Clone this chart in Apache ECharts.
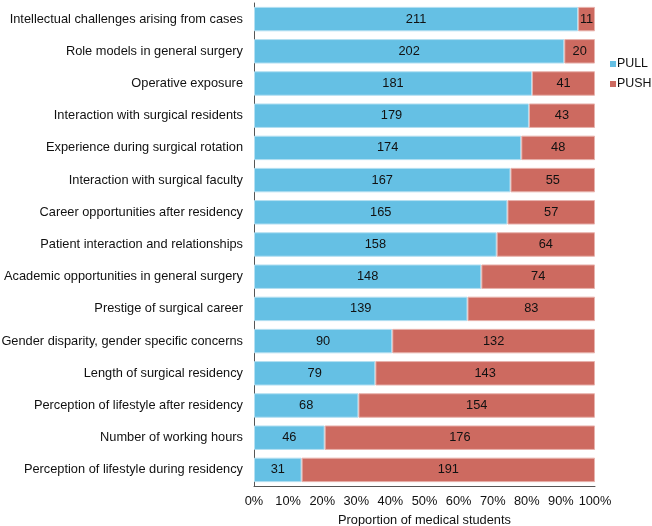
<!DOCTYPE html>
<html>
<head>
<meta charset="utf-8">
<script src="https://cdn.jsdelivr.net/npm/echarts@6/dist/echarts.min.js"></script>
<style>
  html, body { margin: 0; padding: 0; background: #fff; }
  #chart { width: 652px; height: 526px; }
</style>
</head>
<body>
<div id="chart"></div>
<script>
// Factors drawing students toward (PULL) or away from (PUSH) general surgery
const categories = [
  'Intellectual challenges arising from cases',
  'Role models in general surgery',
  'Operative exposure',
  'Interaction with surgical residents',
  'Experience during surgical rotation',
  'Interaction with surgical faculty',
  'Career opportunities after residency',
  'Patient interaction and relationships',
  'Academic opportunities in general surgery',
  'Prestige of surgical career',
  'Gender disparity, gender specific concerns',
  'Length of surgical residency',
  'Perception of lifestyle after residency',
  'Number of working hours',
  'Perception of lifestyle during residency'
];
const pullCounts = [211, 202, 181, 179, 174, 167, 165, 158, 148, 139, 90, 79, 68, 46, 31];
const pushCounts = [11, 20, 41, 43, 48, 55, 57, 64, 74, 83, 132, 143, 154, 176, 191];
const tickLabels = ['0%', '10%', '20%', '30%', '40%', '50%', '60%', '70%', '80%', '90%', '100%'];

// Share of students per row, in percent
const share = (counts, i) => counts[i] / (pullCounts[i] + pushCounts[i]) * 100;
const pullPct = pullCounts.map((c, i) => ({ value: share(pullCounts, i), count: c }));
const pushPct = pushCounts.map((c, i) => ({ value: share(pushCounts, i), count: c }));

const font = 'Liberation Sans, Arial, sans-serif';
const fs = 12.8;
const chart = echarts.init(document.getElementById('chart'), null, { renderer: 'canvas' });

const barLabel = {
  show: true,
  position: 'inside',
  color: '#111',
  fontFamily: font,
  fontSize: fs,
  formatter: p => p.data.count
};

chart.setOption({
  animation: false,
  textStyle: { fontFamily: font },
  grid: { left: 254, right: 57, top: 3, bottom: 40, containLabel: false, outerBoundsMode: 'none' },
  legend: {
    orient: 'vertical',
    left: 610,
    top: 58,
    padding: 0,
    itemWidth: 6,
    itemHeight: 6,
    itemGap: 8,
    icon: 'rect',
    itemStyle: { borderWidth: 0 },
    textStyle: { fontFamily: font, fontSize: 12.4, color: '#111', padding: [0, 0, 0, -4] },
    data: ['PULL', 'PUSH']
  },
  xAxis: {
    type: 'value',
    min: 0,
    max: 100,
    interval: 10,
    name: 'Proportion of medical students',
    nameLocation: 'middle',
    nameGap: 28,
    nameTextStyle: { fontFamily: font, fontSize: fs, color: '#111' },
    axisLine: { show: true, lineStyle: { color: '#555', width: 1 } },
    axisTick: { show: false },
    splitLine: { show: false },
    axisLabel: {
      fontFamily: font,
      fontSize: fs,
      color: '#111',
      margin: 9,
      formatter: v => tickLabels[Math.round(v / 10)]
    }
  },
  yAxis: {
    type: 'category',
    inverse: true,
    data: categories,
    axisLine: { show: true, lineStyle: { color: '#555', width: 1 } },
    axisTick: { show: false },
    axisLabel: { fontFamily: font, fontSize: fs, color: '#111', margin: 11 }
  },
  series: [
    {
      name: 'PULL',
      type: 'bar',
      stack: 'total',
      barCategoryGap: '24%',
      data: pullPct,
      itemStyle: { color: '#65C0E4', borderColor: '#B5E0F2', borderWidth: 1 },
      label: barLabel
    },
    {
      name: 'PUSH',
      type: 'bar',
      stack: 'total',
      barCategoryGap: '24%',
      data: pushPct,
      itemStyle: { color: '#CD6A60', borderColor: '#E8B3AD', borderWidth: 1 },
      label: barLabel
    }
  ]
});
</script>
</body>
</html>
